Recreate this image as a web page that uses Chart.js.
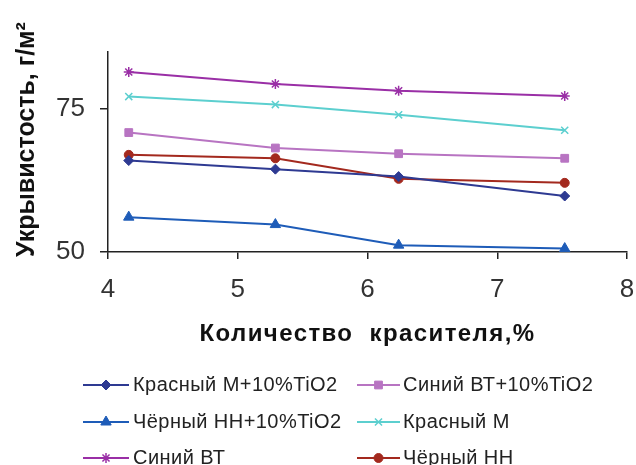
<!DOCTYPE html>
<html>
<head>
<meta charset="utf-8">
<script src="https://cdn.jsdelivr.net/npm/chart.js@4/dist/chart.umd.min.js"></script>
<style>
  html, body { margin: 0; padding: 0; background: #ffffff; }
  #wrap { width: 636px; height: 465px; }
</style>
</head>
<body>
<div id="wrap"><canvas id="c" width="636" height="465"></canvas></div>
<script>
// ---- Data ----
const xValues = [4.16, 5.29, 6.24, 7.52];            // Количество красителя, %
const seriesNames = [
  "Красный М+10%TiO2",
  "Синий ВТ+10%TiO2",
  "Чёрный НН+10%TiO2",
  "Красный М",
  "Синий ВТ",
  "Чёрный НН"
];
const redM_TiO2    = [66.0, 64.5, 63.2, 59.8];
const blueVT_TiO2  = [70.9, 68.2, 67.2, 66.4];
const blackNN_TiO2 = [56.1, 54.8, 51.2, 50.6];
const redM         = [77.2, 75.8, 74.0, 71.3];
const blueVT       = [81.5, 79.4, 78.2, 77.3];
const blackNN      = [67.0, 66.4, 62.8, 62.1];
const xTicks = [4, 5, 6, 7, 8];
const yTicks = [50, 75];
const xTitle = "Количество  красителя,%";
const yTitle = "Укрывистость, г/м²";

// ---- Styles ----
const seriesValues = [redM_TiO2, blueVT_TiO2, blackNN_TiO2, redM, blueVT, blackNN];
const colors  = ["#2E3A92", "#B874C2", "#1E5CB8", "#5CCFCF", "#9A2FA6", "#A3291E"];
const styles  = ["rectRot", "rect", "triangle", "crossRot", "star", "circle"];
const radii   = [5, 5.5, 6, 5, 5, 4.5];
const pBorder = [1, 1, 1, 1.5, 1.5, 1];
const FONT = '"Liberation Sans", Arial, sans-serif';

const datasets = seriesNames.map((name, i) => ({
  label: name,
  data: xValues.map((x, j) => ({ x: x, y: seriesValues[i][j] })),
  borderColor: colors[i],
  backgroundColor: colors[i],
  pointBackgroundColor: colors[i],
  pointBorderColor: colors[i],
  pointStyle: styles[i],
  pointRadius: radii[i],
  pointBorderWidth: pBorder[i],
  borderWidth: 2,
  tension: 0,
  fill: false
}));

const legendPlugin = {
  id: 'customLegend',
  afterDraw(chart) {
    const ctx = chart.ctx;
    const colLine = [[83, 129], [357, 400]];
    const colText = [133, 403];
    const rowY = [385, 422, 458];
    chart.data.datasets.forEach((ds, i) => {
      const col = i % 2, row = Math.floor(i / 2);
      const y = rowY[row];
      ctx.save();
      ctx.strokeStyle = ds.borderColor;
      ctx.lineWidth = 2;
      ctx.beginPath();
      ctx.moveTo(colLine[col][0], y);
      ctx.lineTo(colLine[col][1], y);
      ctx.stroke();
      ctx.fillStyle = ds.pointBackgroundColor;
      ctx.strokeStyle = ds.pointBorderColor;
      ctx.lineWidth = ds.pointBorderWidth;
      const mx = (colLine[col][0] + colLine[col][1]) / 2;
      Chart.helpers.drawPoint(ctx, {
        pointStyle: ds.pointStyle,
        radius: ds.pointRadius,
        rotation: 0,
        borderWidth: ds.pointBorderWidth
      }, mx, y);
      ctx.fillStyle = '#222';
      ctx.font = '20px ' + FONT;
      if ('letterSpacing' in ctx) ctx.letterSpacing = '0.45px';
      ctx.textBaseline = 'middle';
      ctx.textAlign = 'left';
      ctx.fillText(ds.label, colText[col], y);
      ctx.restore();
    });
  }
};

function spacedTitle(scale, spacing) {
  if (scale._spacedTitle) return;
  scale._spacedTitle = true;
  const orig = scale.drawTitle;
  scale.drawTitle = function () {
    const ctx = this.ctx;
    ctx.save();
    if ('letterSpacing' in ctx) ctx.letterSpacing = spacing;
    orig.apply(this, arguments);
    ctx.restore();
  };
}

new Chart(document.getElementById('c'), {
  type: 'line',
  data: { datasets: datasets },
  plugins: [legendPlugin],
  options: {
    responsive: false,
    animation: false,
    devicePixelRatio: 1,
    layout: { padding: { left: 0, right: 9, top: 52, bottom: 110 } },
    plugins: { legend: { display: false }, tooltip: { enabled: false } },
    scales: {
      x: {
        type: 'linear',
        min: 4, max: 8,
        afterBuildTicks: (s) => { s.ticks = xTicks.map(v => ({ value: v })); },
        afterFit: (s) => { s.height = 103; s.paddingLeft = 0; s.paddingRight = 0; spacedTitle(s, '1.4px'); },
        ticks: { color: '#333', padding: 15, font: { family: FONT, size: 26 } },
        grid: { display: true, drawOnChartArea: false, drawTicks: true, tickLength: 7, color: '#222', lineWidth: 1.5 },
        border: { display: true, color: '#222', width: 1.5 },
        title: {
          display: true, text: xTitle, color: '#111',
          font: { family: FONT, size: 24, weight: 'bold' },
          padding: { top: 0, bottom: 6 }
        }
      },
      y: {
        type: 'linear',
        min: 50, max: 85,
        afterBuildTicks: (s) => { s.ticks = yTicks.map(v => ({ value: v })); },
        afterFit: (s) => { s.width = 108; s.paddingTop = 0; s.paddingBottom = 0; },
        ticks: { color: '#333', padding: 15, font: { family: FONT, size: 26 } },
        grid: { display: true, drawOnChartArea: false, drawTicks: true, tickLength: 8, color: '#222', lineWidth: 1.5 },
        border: { display: true, color: '#222', width: 1.5 },
        title: {
          display: true, text: '\u2002\u2002' + yTitle, color: '#111',
          font: { family: FONT, size: 25, weight: 'bold' },
          padding: { top: 12, bottom: 0 }
        }
      }
    }
  }
});
</script>
</body>
</html>
